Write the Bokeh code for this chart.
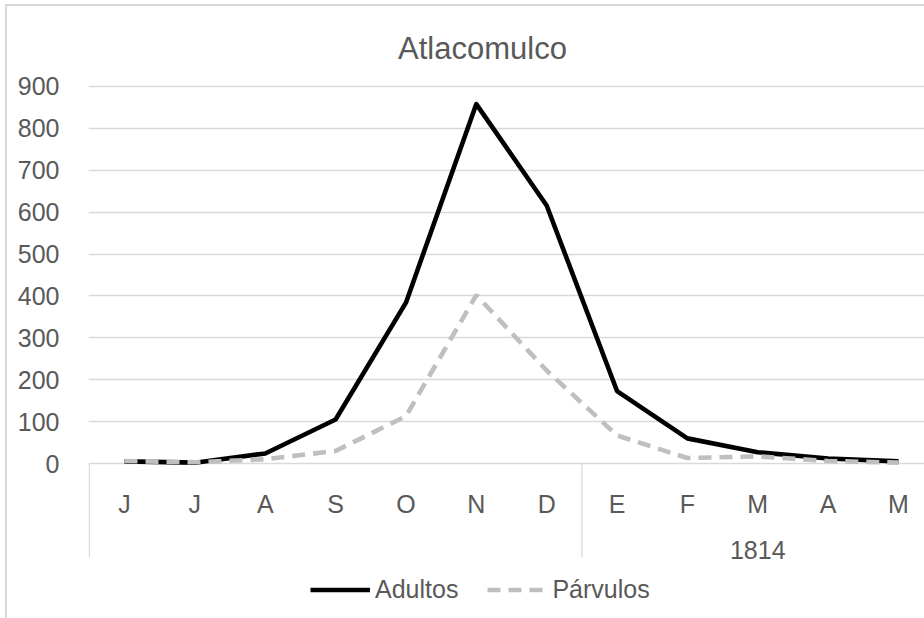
from bokeh.plotting import figure
from bokeh.models import Range1d, FixedTicker, InlineStyleSheet
from bokeh.core.properties import value
from bokeh.embed import file_html
from bokeh.resources import INLINE

# ---- data ----
months = ["J", "J", "A", "S", "O", "N", "D", "E", "F", "M", "A", "M"]
year_label = "1814"
adultos = [5, 2, 24, 105, 384, 858, 616, 173, 60, 27, 12, 5]
parvulos = [6, 3, 10, 30, 113, 402, 222, 67, 13, 17, 6, 2]
y_ticks = [0, 100, 200, 300, 400, 500, 600, 700, 800, 900]
title_text = "Atlacomulco"

FONT = "Liberation Sans"
TXT = "#595959"
GRID = "#d9d9d9"

x = list(range(len(months)))

css = InlineStyleSheet(css="""
:host { position: relative; }
:host::after {
  content: ''; position: absolute; left: 5px; top: 4px; right: 0; bottom: 0;
  border-top: 2px solid #d9d9d9; border-left: 2px solid #d9d9d9;
  pointer-events: none; z-index: 100;
}
""")

p = figure(width=924, height=618, output_backend="svg", toolbar_location=None,
           x_range=Range1d(-0.5117, 11.370), y_range=Range1d(-370.0, 1105.3),
           x_axis_location=None, min_border_left=88, min_border_right=0,
           min_border_top=0, min_border_bottom=0, stylesheets=[css])
p.outline_line_color = None
p.background_fill_color = "white"
p.border_fill_color = "white"

ax = p.yaxis[0]
ax.ticker = FixedTicker(ticks=y_ticks)
ax.axis_line_color = None
ax.major_tick_line_color = None
ax.minor_tick_line_color = None
ax.major_label_text_font = FONT
ax.major_label_text_font_size = "25px"
ax.major_label_text_color = TXT
ax.major_label_standoff = 23

p.ygrid.ticker = FixedTicker(ticks=y_ticks)
p.ygrid.grid_line_color = GRID
p.ygrid.grid_line_width = 1.3
p.xgrid.grid_line_color = None

# category separators below axis
p.segment(x0=[-0.5, 6.5], y0=[0, 0], x1=[-0.5, 6.5], y1=[-224, -224],
          line_color=GRID, line_width=1.3)

# month labels
p.text(x=x, y=[-95.5] * len(x), text=months, text_font=value(FONT),
       text_font_size="25px", text_color=TXT, text_align="center",
       text_baseline="alphabetic")
p.text(x=[9], y=[-205.3], text=[year_label], text_font=value(FONT),
       text_font_size="25px", text_color=TXT, text_align="center",
       text_baseline="alphabetic")

# title
p.text(x=[5.088], y=[990.0], text=[title_text], text_font=value(FONT),
       text_font_size="31px", text_color=TXT, text_align="center",
       text_baseline="alphabetic")

# series
p.line(x, adultos, line_color="black", line_width=4.6, line_join="round",
       legend_label="Adultos")
p.line(x, parvulos, line_color="#bfbfbf", line_width=4.6, line_dash="13 8",
       legend_label="Párvulos")

lg = p.legend[0]
lg.location = (222, 14)
lg.orientation = "horizontal"
lg.label_text_font = FONT
lg.label_text_font_size = "25px"
lg.label_text_color = TXT
lg.glyph_width = 60
lg.glyph_height = 25
lg.label_height = 25
lg.label_standoff = 5
lg.spacing = 29
lg.padding = 0
lg.margin = 0
lg.border_line_color = None
lg.background_fill_alpha = 0

open("out.html", "w").write(file_html(p, INLINE))
